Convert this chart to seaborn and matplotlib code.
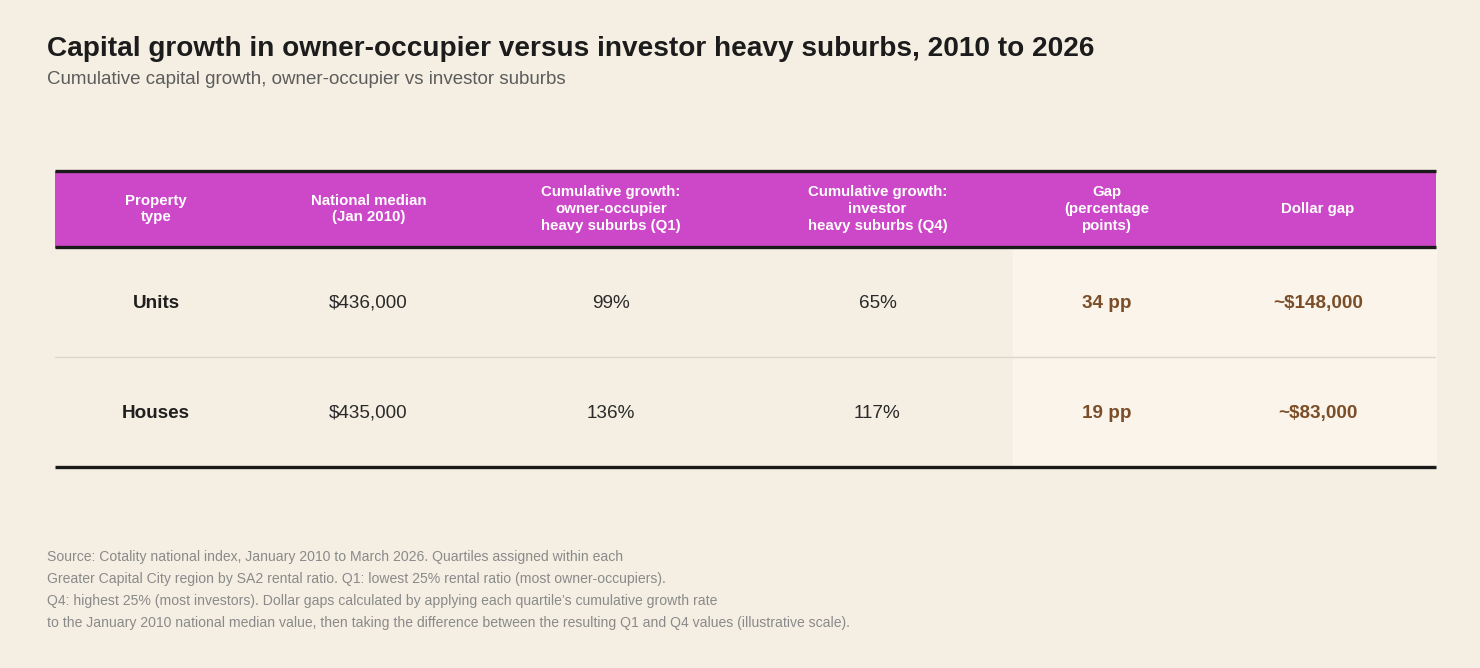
import numpy as np
import pandas as pd
import matplotlib.pyplot as plt
import seaborn as sns

# table content
headers = ["Property\ntype", "National median\n(Jan 2010)",
           "Cumulative growth:\nowner-occupier\nheavy suburbs (Q1)",
           "Cumulative growth:\ninvestor\nheavy suburbs (Q4)",
           "Gap\n(percentage\npoints)", "Dollar gap"]
property_type = ["Units", "Houses"]
national_median = ["$436,000", "$435,000"]
growth_q1 = ["99%", "136%"]
growth_q4 = ["65%", "117%"]
gap_pp = ["34 pp", "19 pp"]
dollar_gap = ["~$148,000", "~$83,000"]

title = "Capital growth in owner-occupier versus investor heavy suburbs, 2010 to 2026"
subtitle = "Cumulative capital growth, owner-occupier vs investor suburbs"
source_lines = [
    "Source: Cotality national index, January 2010 to March 2026. Quartiles assigned within each",
    "Greater Capital City region by SA2 rental ratio. Q1: lowest 25% rental ratio (most owner-occupiers).",
    "Q4: highest 25% (most investors). Dollar gaps calculated by applying each quartile\u2019s cumulative growth rate",
    "to the January 2010 national median value, then taking the difference between the resulting Q1 and Q4 values (illustrative scale).",
]

df = pd.DataFrame({
    "type": property_type, "median": national_median, "q1": growth_q1,
    "q4": growth_q4, "gap": gap_pp, "dollar": dollar_gap,
})

bg = "#F5EFE3"
sns.set_theme(style="white", rc={"figure.facecolor": bg, "axes.facecolor": bg})
plt.rcParams["font.family"] = ["Liberation Sans", "DejaVu Sans"]

fig = plt.figure(figsize=(14.8, 6.68), dpi=100)

# column widths (px) and row heights (px)
col_w = np.array([202, 223, 262, 271, 187, 236])
edges = np.concatenate([[0], np.cumsum(col_w)])
centres = (edges[:-1] + edges[1:]) / 2
head_h, row_h = 76, 110
tot_w = edges[-1]
tot_h = head_h + row_h * len(df)

W, H = 1480, 668
x0, y0 = 55, 171
ax = fig.add_axes([x0 / W, 1 - (y0 + tot_h) / H, tot_w / W, tot_h / H])
ax.set_xlim(0, tot_w)
ax.set_ylim(tot_h, 0)
ax.axis("off")

# header band
ax.axhspan(0, head_h, color="#CC48C8", zorder=0)
# highlighted gap columns
ax.fill_between([edges[4], edges[6]], head_h, tot_h, color="#FBF4EA", zorder=0)

for c, h in zip(centres, headers):
    ax.text(c, head_h / 2, h, ha="center", va="center", color="white",
            fontsize=10.8, fontweight="bold", linespacing=1.27)

cols = ["type", "median", "q1", "q4", "gap", "dollar"]
for i, row in df.iterrows():
    yc = head_h + row_h * (i + 0.5) + 1.5
    for j, col in enumerate(cols):
        if j == 0:
            kw = dict(color="#1f1f1f", fontweight="bold")
        elif j >= 4:
            kw = dict(color="#7A4E28", fontweight="bold")
        else:
            kw = dict(color="#2a2a2a")
        ax.text(centres[j], yc, row[col], ha="center", va="center",
                fontsize=13.6, **kw)

# rules
for yy in (0, head_h, tot_h):
    ax.axhline(yy, color="#1a1a1a", lw=2.4, zorder=3, clip_on=False,
               solid_capstyle="butt")
for i in range(1, len(df)):
    ax.axhline(head_h + row_h * i, color="#DCD5CA", lw=1.0, zorder=2)

# titles
fig.text(47 / W, 1 - 49 / H, title, ha="left", va="center", fontsize=20.2,
         fontweight="bold", color="#1c1c1c")
fig.text(47 / W, 1 - 79 / H, subtitle, ha="left", va="center", fontsize=13.5,
         color="#5c5c5c")

for k, line in enumerate(source_lines):
    fig.text(47 / W, 1 - (556.5 + 22 * k) / H, line, ha="left", va="center",
             fontsize=10.1, color="#8a8a8a")

fig.savefig("out.png", dpi=100, facecolor=bg)
